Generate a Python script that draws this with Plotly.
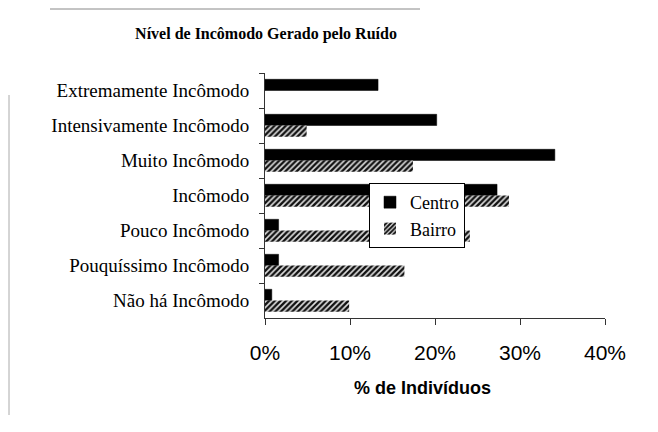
import plotly.graph_objects as go

categories = ["Extremamente Incômodo", "Intensivamente Incômodo", "Muito Incômodo",
              "Incômodo", "Pouco Incômodo", "Pouquíssimo Incômodo", "Não há Incômodo"]
centro = [0.133, 0.202, 0.341, 0.273, 0.016, 0.016, 0.008]
bairro = [0.0, 0.049, 0.174, 0.287, 0.241, 0.164, 0.099]
x_ticks = [0, 0.1, 0.2, 0.3, 0.4]
x_tick_labels = ["0%", "10%", "20%", "30%", "40%"]

serif = "Liberation Serif"
sans = "Liberation Sans"

# page body has an 8px margin; figure is sized/positioned to compensate
OFF = 8
W, H = 658 - OFF, 432 - OFF
L, R, T, B = 265, 605, 73, 318  # plot area in screenshot pixels

fig = go.Figure()
fig.add_trace(go.Bar(
    y=categories, x=centro, orientation="h", name="Centro",
    marker=dict(color="black", line=dict(color="black", width=0.5)),
))
fig.add_trace(go.Bar(
    y=categories, x=bairro, orientation="h", name="Bairro",
    marker=dict(color="white", line=dict(color="#333", width=0),
                pattern=dict(shape="/", fgcolor="#111", bgcolor="#e0e0e0",
                             size=4, solidity=0.6, fillmode="replace")),
))

px_x = lambda p: (p - L) / (R - L)
px_y = lambda p: (B - p) / (B - T)

fig.update_layout(
    width=W, height=H,
    margin=dict(l=L - OFF, r=658 - R, t=T - OFF, b=432 - B),
    paper_bgcolor="white", plot_bgcolor="white",
    barmode="group", bargap=0.36, bargroupgap=0,
    showlegend=True,
    legend=dict(x=px_x(369), y=px_y(183), xanchor="left", yanchor="top",
                bordercolor="black", borderwidth=1, bgcolor="white",
                font=dict(family=serif, size=18, color="black"),
                tracegroupgap=0, itemwidth=30),
    title=dict(text="<b>Nível de Incômodo Gerado pelo Ruído</b>",
               x=(266 - OFF) / W, y=1 - (33 - OFF) / H, xref="container", yref="container",
               xanchor="center", yanchor="middle",
               font=dict(family=serif, size=16, color="black")),
    xaxis=dict(range=[0, 0.4], tickvals=x_ticks, ticktext=x_tick_labels,
               showgrid=False, zeroline=False, showline=True, linecolor="#333",
               linewidth=1, ticks="outside", ticklen=6, tickcolor="#333",
               ticklabelstandoff=10,
               tickfont=dict(family=sans, size=21, color="black")),
    yaxis=dict(autorange="reversed", showgrid=False, zeroline=False,
               showline=True, linecolor="#333", linewidth=1,
               ticks="outside", tickson="boundaries", ticklen=5, tickcolor="#333",
               ticklabelstandoff=11,
               tickfont=dict(family=serif, size=19, color="black")),
    annotations=[dict(text="<b>% de Indivíduos</b>", xref="paper", yref="paper",
                      x=px_x(422), y=px_y(388),
                      xanchor="center", yanchor="middle", showarrow=False,
                      font=dict(family=sans, size=18, color="black"))],
    shapes=[
        dict(type="line", xref="paper", yref="paper",
             x0=px_x(50), x1=px_x(420), y0=px_y(9), y1=px_y(9),
             line=dict(color="#888", width=1)),
        dict(type="line", xref="paper", yref="paper",
             x0=px_x(9), x1=px_x(9), y0=px_y(95), y1=px_y(415),
             line=dict(color="#aaa", width=1)),
    ],
)

fig.write_html("out.html")
